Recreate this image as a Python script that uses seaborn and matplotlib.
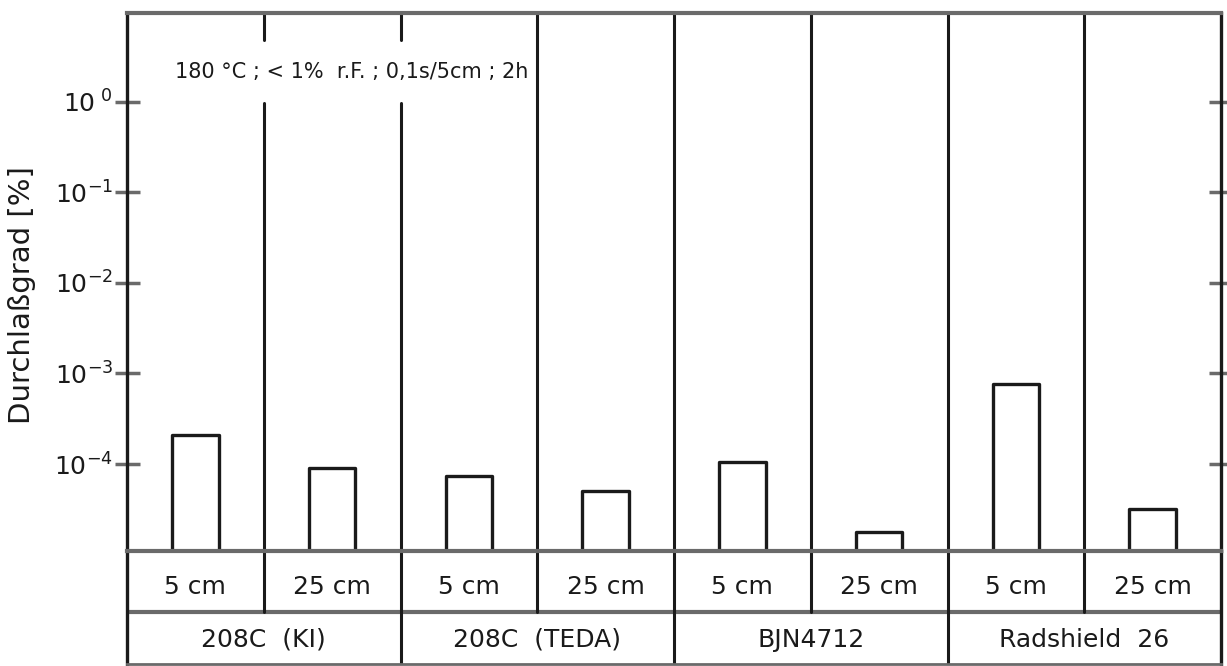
import matplotlib
matplotlib.use("Agg")
import matplotlib.pyplot as plt
import seaborn as sns
import pandas as pd
import numpy as np

# ---- data ----
filters = ["208C  (KI)", "208C  (TEDA)", "BJN4712", "Radshield  26"]
depths = ["5 cm", "25 cm"]
values_5cm = [2.1e-4, 7.4e-5, 1.05e-4, 7.6e-4]
values_25cm = [9.0e-5, 5.0e-5, 1.8e-5, 3.2e-5]
ytick_values = [1e0, 1e-1, 1e-2, 1e-3, 1e-4]
ytick_labels = [r"$\mathregular{10^{\ 0}}$", r"$\mathregular{10^{-1}}$",
                r"$\mathregular{10^{-2}}$", r"$\mathregular{10^{-3}}$",
                r"$\mathregular{10^{-4}}$"]
y_label = "Durchlaßgrad [%]"
condition_text = "180 °C ; < 1%  r.F. ; 0,1s/5cm ; 2h"

rows = []
for f, v5, v25 in zip(filters, values_5cm, values_25cm):
    rows.append({"cell": f + "|" + depths[0], "filter": f, "depth": depths[0], "value": v5})
    rows.append({"cell": f + "|" + depths[1], "filter": f, "depth": depths[1], "value": v25})
df = pd.DataFrame(rows)
order = list(df["cell"])

sns.set_theme(style="white")
plt.rcParams["font.family"] = ["DejaVu Sans"]

W, H = 1227, 666
fig = plt.figure(figsize=(W / 100, H / 100), dpi=100)
fig.patch.set_facecolor("white")

L, R = 127, 1221
TOP, BASE, BOT = 13, 551, 664
tax = fig.add_axes([L / W, 1 - BOT / H, (R - L) / W, (BOT - BASE) / H])
ax = fig.add_axes([L / W, 1 - BASE / H, (R - L) / W, (BASE - TOP) / H])
tax.patch.set_alpha(0)
ax.patch.set_alpha(0)

dark = "#1a1a1a"
gray = "#6a6a6a"

sns.barplot(data=df, x="cell", y="value", order=order, ax=ax, fill=False,
            color=dark, linewidth=2.4, width=0.34, errorbar=None)
for p in ax.patches:
    p.set_joinstyle("round")
ax.set_yscale("log")
ax.set_ylim(1.1e-5, 9.5)
ax.set_xlim(-0.5, len(order) - 0.5)
ax.set_xticks([])
ax.set_xlabel("")
ax.set_yticks(ytick_values)
ax.set_yticklabels(ytick_labels)
ax.minorticks_off()
ax.yaxis.set_minor_locator(matplotlib.ticker.NullLocator())
ax.tick_params(axis="y", which="major", direction="inout", length=18, width=2.5,
               color=gray, labelsize=18, pad=1, left=True, right=True,
               labelcolor=dark)
ax.set_ylabel(y_label, fontsize=21, color=dark)
ax.yaxis.set_label_coords(-0.083, 0.476)

for side in ["left", "right"]:
    ax.spines[side].set_color(dark)
    ax.spines[side].set_linewidth(2.4)
for side in ["top", "bottom"]:
    ax.spines[side].set_color(gray)
    ax.spines[side].set_linewidth(3)

# column dividers
for i in range(len(order) - 1):
    xpos = i + 0.5
    if i < 2:
        ax.axvline(xpos, ymin=0, ymax=0.833, color=dark, lw=2.2)
        ax.axvline(xpos, ymin=0.95, ymax=1, color=dark, lw=2.2)
    else:
        ax.axvline(xpos, color=dark, lw=2.2)

ax.text((175 - L) / (R - L), (BASE - 72) / (BASE - TOP), condition_text,
        transform=ax.transAxes, ha="left", va="center", fontsize=15, color=dark)

# table below
tax.set_xlim(-0.5, len(order) - 0.5)
tax.set_ylim(0, 1)
tax.set_xticks([])
tax.set_yticks([])
split = (BOT - 612) / (BOT - BASE)
tax.axhline(split, color=gray, lw=3)
for i in range(len(order) - 1):
    xpos = i + 0.5
    if i % 2 == 0:
        tax.axvline(xpos, ymin=split, ymax=1, color=dark, lw=2.2)
    else:
        tax.axvline(xpos, ymin=0, ymax=1, color=dark, lw=2.2)
for i, (f, d) in enumerate(zip(df["filter"], df["depth"])):
    tax.text(i, (BOT - 587) / (BOT - BASE), d, ha="center", va="center",
             fontsize=18, color=dark)
for j, f in enumerate(filters):
    tax.text(2 * j + 0.5, (BOT - 640) / (BOT - BASE), f, ha="center", va="center",
             fontsize=18, color=dark)
for side in ["left", "right"]:
    tax.spines[side].set_color(dark)
    tax.spines[side].set_linewidth(2.4)
tax.spines["top"].set_visible(False)
tax.spines["bottom"].set_color(gray)
tax.spines["bottom"].set_linewidth(2)

fig.savefig("out.png", dpi=100, facecolor="white")
